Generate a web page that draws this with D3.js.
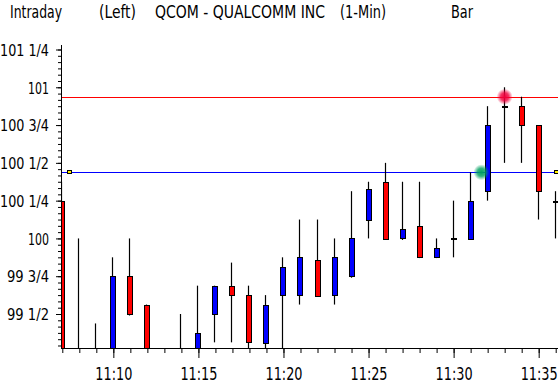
<!DOCTYPE html>
<html>
<head>
<meta charset="utf-8">
<script src="https://cdn.jsdelivr.net/npm/d3@7"></script>
<style>
body { margin: 0; background: #fff; }
svg { display: block; }
text { font-family: "DejaVu Sans Condensed", "DejaVu Sans", sans-serif; fill: #000; }
</style>
</head>
<body>
<div id="chart"></div>
<script>
// one-minute bars, QCOM
var times  = ["11:07","11:08","11:09","11:10","11:11","11:12","11:13","11:14","11:15","11:16",
              "11:17","11:18","11:19","11:20","11:21","11:22","11:23","11:24","11:25","11:26",
              "11:27","11:28","11:29","11:30","11:31","11:32","11:33","11:34","11:35","11:36"];
var opens  = [100.25, 99.2, 99.2, 99.2, 99.75, 99.5625, 99.2, 99.2, 99.2, 99.5,
              99.6875, 99.625, 99.3125, 99.625, 99.625, 99.86, 99.625, 99.75, 100.125, 100.375,
              100.0, 100.08, 99.875, 100.0, 100.0, 100.3125, 100.875, 100.875, 100.75, 100.25];
var highs  = [100.375, 100.0, 99.4375, 99.875, 100.0, 99.5625, 99.25, 99.5, 99.6875, 99.6875,
              99.84, 99.6875, 99.625, 99.875, 100.125, 100.125, 100.0, 100.3125, 100.375, 100.5,
              100.375, 100.375, 100.0, 100.25, 100.4375, 100.875, 101.0, 100.9375, 100.75, 100.3125];
var lows   = [99.1, 99.1, 99.1, 99.1, 99.49, 99.1, 99.1, 99.1, 99.1, 99.3125,
              99.3125, 99.2, 99.2, 99.2, 99.5625, 99.62, 99.5625, 99.74, 100.0, 99.99,
              99.99, 99.87, 99.87, 99.875, 100.0, 100.25, 100.5, 100.5, 100.125, 100.0];
var closes = [99.2, 99.15, 99.2, 99.75, 99.5, 99.2, 99.2, 99.2, 99.375, 99.6875,
              99.625, 99.3125, 99.5625, 99.8125, 99.875, 99.625, 99.875, 100.0, 100.33, 100.0,
              100.0625, 99.875, 99.9375, 100.0, 100.25, 100.75, 100.875, 100.75, 100.3125, 100.25];

var yTickValues = [99.5, 99.75, 100, 100.25, 100.5, 100.75, 101, 101.25];
var yTickLabels = ["99 1/2","99 3/4","100","100 1/4","100 1/2","100 3/4","101","101 1/4"];
var xTickLabels = ["11:10","11:15","11:20","11:25","11:30","11:35"];
var titleParts  = ["Intraday","(Left)","QCOM - QUALCOMM INC","(1-Min)","Bar"];

var highLine = 100.9375, lowLine = 100.4375;   // red / blue reference lines
var glowTimes  = ["11:33:00","11:31:38"];
var glowValues = [highLine, lowLine];
var glowColors = ["#f0003c","#00a060"];

var W = 558, H = 383;
var m = {left: 61, top: 45, bottom: 348};

var parse = d3.timeParse("%H:%M");
var parseS = d3.timeParse("%H:%M:%S");
var data = times.map(function(t, i) {
  return {t: parse(t), o: opens[i], h: highs[i], l: lows[i], c: closes[i]};
});

var x = d3.scaleTime().domain([parse("11:07"), parse("11:36")]).range([62.3, 555.7]);
var y = d3.scaleLinear().domain([99.5, 101.25]).range([314, 49.5]);

var svg = d3.select("#chart").append("svg")
  .attr("width", W).attr("height", H);

// title
var titleX = [10, 99, 155, 340, 451];
var titleW = [52, 37, 170, 46, 22];
svg.selectAll("text.title").data(titleParts).enter().append("text")
  .attr("class", "title")
  .attr("x", function(d, i) { return titleX[i]; })
  .attr("y", 18)
  .attr("font-size", 18)
  .attr("textLength", function(d, i) { return titleW[i]; })
  .attr("lengthAdjust", "spacingAndGlyphs")
  .text(function(d) { return d; });

// glow gradients
var defs = svg.append("defs");
glowColors.forEach(function(c, i) {
  var g = defs.append("radialGradient").attr("id", "glow" + i);
  g.append("stop").attr("offset", "0%").attr("stop-color", c).attr("stop-opacity", 1);
  g.append("stop").attr("offset", "50%").attr("stop-color", c).attr("stop-opacity", 0.8);
  g.append("stop").attr("offset", "100%").attr("stop-color", c).attr("stop-opacity", 0);
});
defs.append("clipPath").attr("id", "plotclip")
  .append("rect").attr("x", m.left).attr("y", m.top)
  .attr("width", W - m.left).attr("height", m.bottom - m.top);

var plot = svg.append("g").attr("clip-path", "url(#plotclip)");

// reference lines
[[highLine, "#ff0000"], [lowLine, "#0000ff"]].forEach(function(r) {
  plot.append("line")
    .attr("x1", m.left).attr("x2", W)
    .attr("y1", Math.round(y(r[0])) + 0.5).attr("y2", Math.round(y(r[0])) + 0.5)
    .attr("stroke", r[1]).attr("stroke-width", 1)
    .attr("shape-rendering", "crispEdges");
});

// candles
var bars = plot.selectAll("g.bar").data(data).enter().append("g")
  .attr("class", "bar")
  .attr("transform", function(d) { return "translate(" + Math.round(x(d.t)) + ",0)"; });

bars.append("line")
  .attr("x1", -0.5).attr("x2", -0.5)
  .attr("y1", function(d) { return y(d.h); })
  .attr("y2", function(d) { return y(d.l); })
  .attr("stroke", "#000").attr("stroke-width", 1.2);

bars.append("rect")
  .attr("x", -2.5).attr("width", 5)
  .attr("y", function(d) { return Math.round(y(Math.max(d.o, d.c))) + 0.5; })
  .attr("height", function(d) { return Math.max(1, Math.round(Math.abs(y(d.o) - y(d.c)))); })
  .attr("fill", function(d) { return d.c > d.o ? "#0000ff" : (d.c < d.o ? "#ff0000" : "#000"); })
  .attr("stroke", "#000").attr("stroke-width", 1)
  .attr("shape-rendering", "crispEdges");

// glow markers
plot.selectAll("circle.glow").data(glowTimes).enter().append("circle")
  .attr("class", "glow")
  .attr("cx", function(d) { return x(parseS(d)); })
  .attr("cy", function(d, i) { return y(glowValues[i]); })
  .attr("r", 8)
  .attr("fill", function(d, i) { return "url(#glow" + i + ")"; });

// small yellow pointers on the blue line
[x.range()[0] + 5, x.range()[1] - 2].forEach(function(px) {
  svg.append("rect")
    .attr("x", Math.round(px) + 0.5).attr("y", Math.round(y(lowLine)) - 1.5)
    .attr("width", 4).attr("height", 3)
    .attr("fill", "#ffee00").attr("stroke", "#000").attr("stroke-width", 1)
    .attr("shape-rendering", "crispEdges");
});

// y axis: minor ticks every 1/24
var minor = d3.range(99.25, 101.28, 1 / 24);
svg.append("g")
  .attr("transform", "translate(" + m.left + ",0)")
  .call(d3.axisLeft(y).tickValues(minor).tickSize(3).tickFormat(""))
  .call(function(g) { g.select(".domain").remove(); })
  .selectAll(".tick").filter(function(d) { return y(d) > m.bottom || y(d) < m.top; }).remove();

var yAxis = svg.append("g")
  .attr("transform", "translate(" + m.left + ",0)")
  .call(d3.axisLeft(y).tickValues(yTickValues).tickSize(5).tickPadding(7)
    .tickFormat(function(d, i) { return yTickLabels[i]; }));
yAxis.select(".domain").remove();
yAxis.selectAll("text")
  .attr("font-size", 16).attr("font-family", null).attr("dy", "0.36em")
  .attr("textLength", function(d, i) { return yTickLabels[i].length * 7; })
  .attr("lengthAdjust", "spacingAndGlyphs");

svg.append("line")
  .attr("x1", m.left + 0.5).attr("x2", m.left + 0.5)
  .attr("y1", m.top).attr("y2", m.bottom + 1)
  .attr("stroke", "#000");

// x axis
svg.append("g")
  .attr("transform", "translate(0," + m.bottom + ")")
  .call(d3.axisBottom(x).ticks(d3.timeMinute.every(1)).tickSize(5).tickFormat(""))
  .select(".domain").remove();

var xAxis = svg.append("g")
  .attr("transform", "translate(0," + m.bottom + ")")
  .call(d3.axisBottom(x).tickValues(xTickLabels.map(parse)).tickSize(10).tickPadding(10)
    .tickFormat(d3.timeFormat("%H:%M")));
xAxis.select(".domain").remove();
xAxis.selectAll("text")
  .attr("font-size", 17).attr("font-family", null)
  .attr("textLength", 37).attr("lengthAdjust", "spacingAndGlyphs");

svg.append("line")
  .attr("x1", m.left).attr("x2", W)
  .attr("y1", m.bottom + 0.5).attr("y2", m.bottom + 0.5)
  .attr("stroke", "#000");
</script>
</body>
</html>
